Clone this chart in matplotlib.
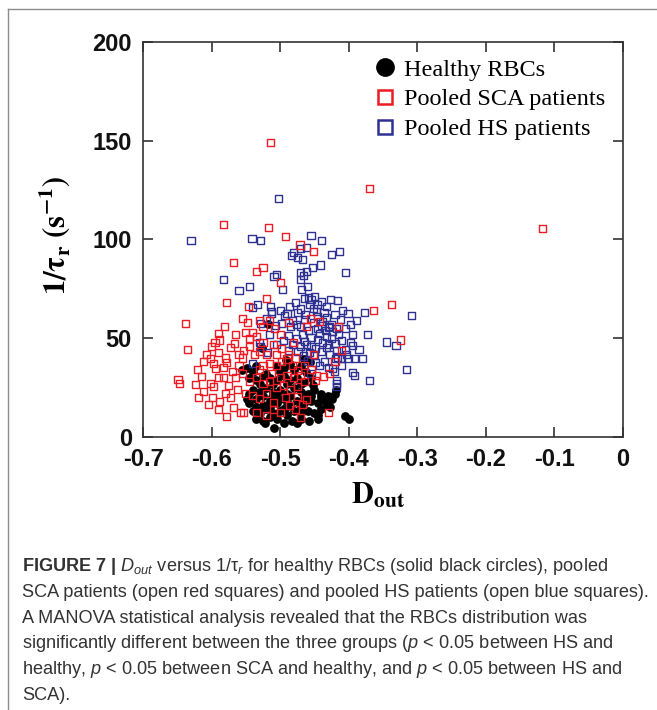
import matplotlib
matplotlib.use("Agg")
import matplotlib.pyplot as plt
from matplotlib.lines import Line2D

plt.rcParams['mathtext.fontset'] = 'custom'
plt.rcParams['mathtext.rm'] = 'Liberation Sans'
plt.rcParams['mathtext.it'] = 'Liberation Sans:italic'
plt.rcParams['mathtext.bf'] = 'Liberation Sans:bold'

# ---------------- data ----------------
healthy_x = [-0.555, -0.548, -0.540, -0.491, -0.485, -0.470, -0.462, -0.480, -0.495, -0.535, -0.505, -0.457, -0.465,
             -0.545, -0.535, -0.525, -0.515, -0.505, -0.495, -0.485, -0.475, -0.465, -0.452, -0.455, -0.530, -0.510,
             -0.490, -0.470, -0.520, -0.500,
             -0.540, -0.530, -0.520, -0.510, -0.500, -0.490, -0.480, -0.470, -0.460, -0.450, -0.440, -0.430, -0.420,
             -0.418, -0.545, -0.525, -0.505, -0.485, -0.465, -0.455,
             -0.545, -0.535, -0.525, -0.515, -0.505, -0.495, -0.485, -0.475, -0.465, -0.455, -0.445, -0.435, -0.425,
             -0.432, -0.440, -0.548, -0.512, -0.492, -0.470,
             -0.540, -0.530, -0.520, -0.510, -0.500, -0.490, -0.480, -0.470, -0.460, -0.450, -0.440, -0.445, -0.428,
             -0.535, -0.515, -0.495,
             -0.535, -0.525, -0.515, -0.505, -0.483, -0.470, -0.458, -0.445, -0.522, -0.405, -0.399, -0.509, -0.495,
             -0.475, -0.527, -0.517]
healthy_y = [34, 35, 33, 39, 37, 36, 33, 34, 35, 36, 36, 38, 39.5,
             30, 29, 31, 30, 29, 31, 29, 30, 28, 26.3, 30, 27, 27,
             27, 27, 32, 33,
             24, 23, 25, 23, 24, 22, 25, 23, 22, 24, 22, 21, 22,
             24, 22, 21, 21, 21, 20, 21,
             17, 19, 16, 18, 17, 19, 16, 18, 17, 18, 17, 18, 19,
             16, 20, 19, 20, 15, 15,
             13, 12, 14, 12, 13, 11, 13, 12, 13, 12, 14, 11, 15,
             15, 15, 14,
             9, 8, 10, 9, 8, 9, 8, 9, 7, 10.4, 9.2, 4.5, 7,
             7, 45, 57]

sca_x = [-0.514, -0.370, -0.118, -0.582, -0.517, -0.492, -0.471, -0.452, -0.568, -0.534, -0.525, -0.500, -0.520,
         -0.578, -0.546, -0.364, -0.337, -0.325, -0.638, -0.635, -0.429, -0.437, -0.410, -0.415, -0.461,
         -0.581, -0.590, -0.589, -0.600, -0.602, -0.597, -0.594, -0.580, -0.578, -0.583, -0.566, -0.550, -0.545,
         -0.540, -0.535, -0.560, -0.553, -0.545, -0.538, -0.530, -0.520, -0.515, -0.505, -0.498, -0.490, -0.482,
         -0.525, -0.512, -0.500, -0.490, -0.480, -0.470, -0.560, -0.570, -0.565, -0.555, -0.545, -0.535, -0.525,
         -0.515, -0.505, -0.495, -0.485, -0.475,
         -0.649, -0.647, -0.623, -0.602, -0.597, -0.619, -0.598, -0.590, -0.578, -0.580, -0.573, -0.568, -0.558,
         -0.553, -0.535, -0.575, -0.562, -0.550, -0.540, -0.530, -0.510, -0.500, -0.487, -0.478, -0.468, -0.462,
         -0.510, -0.492, -0.475, -0.520, -0.470,
         -0.530, -0.525, -0.515, -0.508, -0.555, -0.548, -0.565, -0.525, -0.510, -0.498, -0.505, -0.488, -0.478,
         -0.465, -0.455, -0.447, -0.452, -0.448, -0.500, -0.488, -0.480, -0.456, -0.442, -0.608, -0.612, -0.590,
         -0.615, -0.620, -0.572, -0.583, -0.590, -0.595, -0.555, -0.530, -0.520, -0.612, -0.605, -0.588, -0.475,
         -0.465, -0.420, -0.428]
sca_y = [149.2, 125.8, 105.5, 107.4, 106.2, 101.5, 97.2, 93.8, 88.5, 83.8, 85.9, 78.0, 70.2,
         68.2, 66.0, 64.0, 67.2, 49.1, 57.4, 44.5, 12.5, 30.5, 44.0, 56.0, 56.0,
         55.9, 52.5, 49.1, 45.7, 39.8, 37.0, 34.5, 40.0, 37.5, 35.0, 47.4, 53.0, 50.0,
         53.0, 51.0, 42.0, 44.0, 46.0, 42.0, 43.5, 42.0, 37.0, 36.0, 38.0, 39.5, 36.0,
         36.0, 32.0, 30.0, 31.0, 30.0, 31.0, 36.0, 33.0, 30.0, 32.0, 28.0, 30.0, 27.0,
         28.0, 25.0, 26.0, 24.0, 25.5,
         28.9, 27.2, 26.7, 27.2, 25.5, 19.9, 20.1, 13.7, 10.3, 22.0, 20.0, 15.0, 12.5,
         12.5, 12.5, 26.0, 24.0, 22.0, 21.0, 19.5, 14.0, 12.5, 16.0, 14.0, 16.5, 19.0,
         17.5, 20.0, 20.5, 11.0, 10.0,
         59.0, 56.0, 59.0, 55.0, 60.0, 58.0, 52.0, 48.0, 47.0, 45.0, 42.0, 42.0, 40.0,
         36.0, 34.0, 31.0, 42.0, 28.5, 52.0, 58.0, 48.0, 60.0, 58.5, 42.0, 38.0, 30.0,
         30.5, 34.0, 45.5, 30.0, 43.0, 48.0, 40.0, 34.0, 22.0, 23.0, 16.5, 18.0, 33.5,
         28.0, 38.0, 32.0]

hs_x = [-0.503, -0.630, -0.541, -0.529, -0.455, -0.440,
        -0.484, -0.480, -0.470, -0.462, -0.475, -0.425, -0.414, -0.441, -0.453, -0.467, -0.405,
        -0.470, -0.466, -0.462, -0.470, -0.509, -0.505, -0.583, -0.560, -0.545, -0.497, -0.469, -0.460, -0.458,
        -0.455,
        -0.533, -0.540, -0.514, -0.513, -0.486, -0.470, -0.445, -0.427, -0.416, -0.409, -0.401, -0.389, -0.377,
        -0.309,
        -0.528, -0.494, -0.482, -0.476, -0.470, -0.458, -0.446, -0.434, -0.428, -0.372, -0.394, -0.345, -0.331,
        -0.394, -0.488,
        -0.482, -0.470, -0.462, -0.457, -0.449, -0.438, -0.430,
        -0.410, -0.401, -0.392, -0.380, -0.419, -0.416, -0.316, -0.370, -0.394, -0.391, -0.424, -0.421, -0.442,
        -0.418, -0.418, -0.418, -0.540, -0.528, -0.507, -0.516,
        -0.478, -0.465, -0.450, -0.440, -0.432, -0.452, -0.463, -0.475, -0.445, -0.432, -0.420, -0.412, -0.425,
        -0.438, -0.452, -0.465, -0.485, -0.498, -0.442, -0.432, -0.424, -0.415, -0.405, -0.398, -0.410, -0.420,
        -0.445, -0.455, -0.468, -0.476, -0.495, -0.505, -0.450, -0.440, -0.428, -0.418, -0.405, -0.466, -0.474,
        -0.488, -0.460, -0.448, -0.435, -0.512, -0.520, -0.500, -0.490, -0.530, -0.518, -0.436, -0.447, -0.457,
        -0.440, -0.430, -0.418, -0.425, -0.433, -0.465, -0.455, -0.398, -0.403, -0.385, -0.410, -0.430, -0.455]
hs_y = [120.9, 99.5, 100.3, 99.7, 101.8, 99.7,
        92.0, 93.5, 95.5, 96.0, 91.0, 92.5, 93.8, 87.1, 85.6, 89.8, 83.2,
        83.5, 82.0, 84.0, 79.8, 81.4, 82.1, 79.9, 74.4, 76.4, 74.5, 74.5, 76.0, 70.7,
        69.5,
        67.3, 65.7, 66.0, 62.5, 66.2, 64.8, 67.3, 69.8, 69.0, 64.0, 62.3, 59.0, 63.1,
        61.6,
        57.6, 61.5, 59.0, 57.0, 56.0, 54.0, 55.0, 54.0, 56.0, 51.8, 51.8, 48.1, 46.1,
        46.4, 51.4,
        47.0, 46.0, 47.0, 43.0, 45.0, 48.0, 47.0,
        39.7, 39.7, 39.7, 39.7, 39.7, 40.5, 34.0, 28.6, 32.7, 31.3, 34.7, 33.0, 36.3,
        28.8, 27.1, 25.5, 37.2, 45.6, 56.4, 52.0,
        68.0, 70.0, 71.0, 68.5, 66.0, 65.0, 62.0, 63.0, 61.0, 60.5, 62.0, 59.5, 57.0,
        58.5, 58.0, 59.5, 56.0, 57.5, 52.5, 51.0, 53.5, 52.0, 55.0, 57.0, 49.0, 47.5,
        49.5, 50.5, 52.0, 50.0, 49.0, 47.0, 41.5, 43.5, 42.0, 44.0, 44.5, 41.0, 43.5,
        44.0, 38.5, 37.5, 38.0, 63.5, 60.0, 64.0, 62.5, 48.0, 43.0, 63.0, 63.5, 67.0,
        56.5, 55.5, 55.0, 50.0, 45.5, 48.5, 46.0, 48.0, 42.0, 44.5, 36.0, 35.0, 32.0]

legend_labels = ["Healthy RBCs", "Pooled SCA patients", "Pooled HS patients"]
x_ticks = [-0.7, -0.6, -0.5, -0.4, -0.3, -0.2, -0.1, 0.0]
x_tick_labels = ["-0.7", "-0.6", "-0.5", "-0.4", "-0.3", "-0.2", "-0.1", "0"]
y_ticks = [0, 50, 100, 150, 200]
y_tick_labels = ["0", "50", "100", "150", "200"]

caption_lines = [
    r"$\mathbf{FIGURE\ 7\ |}$ $D_{out}$ versus 1/$\mathrm{\tau}_{r}$ for healthy RBCs (solid black circles), pooled",
    "SCA patients (open red squares) and pooled HS patients (open blue squares).",
    "A MANOVA statistical analysis revealed that the RBCs distribution was",
    r"significantly different between the three groups ($p$ < 0.05 between HS and",
    r"healthy, $p$ < 0.05 between SCA and healthy, and $p$ < 0.05 between HS and",
    "SCA).",
]

RED = "#ec1c24"
BLUE = "#2e3192"

# ---------------- figure ----------------
W, H = 657, 710
fig = plt.figure(figsize=(W / 100, H / 100), dpi=100)
ax = fig.add_axes([143 / W, 1 - 437 / H, 480 / W, 395 / H])

ax.scatter(healthy_x, healthy_y, s=40, c="black", marker="o", linewidths=0, zorder=2)
ax.scatter(hs_x, hs_y, s=26, facecolors="none", edgecolors=BLUE, marker="s", linewidths=1.0, zorder=3)
ax.scatter(sca_x, sca_y, s=26, facecolors="none", edgecolors=RED, marker="s", linewidths=1.0, zorder=4)

ax.set_xlim(-0.7, 0.0)
ax.set_ylim(0, 200)
ax.set_xticks(x_ticks)
ax.set_xticklabels(x_tick_labels)
ax.set_yticks(y_ticks)
ax.set_yticklabels(y_tick_labels)
for lab in ax.get_xticklabels() + ax.get_yticklabels():
    lab.set_fontfamily("Liberation Sans")
    lab.set_fontweight("bold")
    lab.set_fontsize(17)
    lab.set_color("#111111")
ax.tick_params(direction="in", length=7, width=1.2, top=True, right=True,
               labeltop=False, labelright=False, pad=8, color="#333333")
for sp in ax.spines.values():
    sp.set_linewidth(1.2)
    sp.set_color("#333333")

ax.set_xlabel(r"$\mathbf{D_{out}}$", fontsize=22, math_fontfamily="stix")
ax.xaxis.set_label_coords(0.49, -0.11)
fig.text(55 / W, 1 - 235 / H, r"$\mathbf{1/\tau_r\ (s^{-1})}$", fontsize=22,
         math_fontfamily="stix", rotation=90, ha="center", va="center")

handles = [
    Line2D([], [], marker="o", ls="", color="black", markersize=12.5),
    Line2D([], [], marker="s", ls="", mfc="none", mec=RED, mew=1.8, markersize=10.5),
    Line2D([], [], marker="s", ls="", mfc="none", mec=BLUE, mew=1.8, markersize=10.5),
]
ax.legend(handles, legend_labels, loc="upper left", bbox_to_anchor=(0.484, 0.958),
          frameon=False, handlelength=0.8, handletextpad=0.4, labelspacing=0.32,
          borderpad=0, borderaxespad=0, prop={"family": "Liberation Serif", "size": 17.5})

# caption
baselines = [571, 597, 623, 648, 674, 700]
for line, b in zip(caption_lines, baselines):
    fig.text(22 / W, 1 - b / H, line, fontsize=13.1, family="Liberation Sans",
             color="#333333", ha="left", va="baseline")

# frame
fig.add_artist(Line2D([7.5 / W, 7.5 / W], [0, 1 - 8.5 / H], transform=fig.transFigure,
                      color="#8c8c8c", lw=1.0))
fig.add_artist(Line2D([7.5 / W, 1], [1 - 8.5 / H, 1 - 8.5 / H], transform=fig.transFigure,
                      color="#8c8c8c", lw=1.0))

fig.savefig("out.png", dpi=100)
